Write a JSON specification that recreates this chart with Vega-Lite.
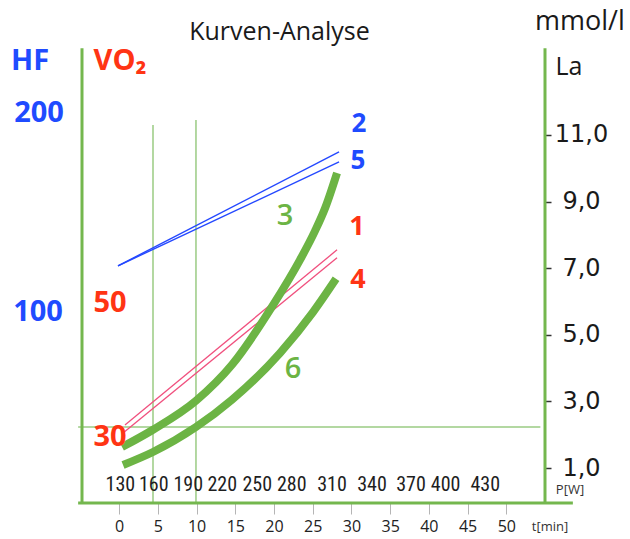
{
  "$schema": "https://vega.github.io/schema/vega-lite/v6.json",
  "width": 463,
  "height": 453,
  "autosize": {"type": "none"},
  "padding": {"left": 82, "top": 50, "right": 85, "bottom": 36},
  "background": "white",
  "config": {"view": {"stroke": null}, "axis": {"grid": false}},
  "datasets": {
    "frame": [
      {"part": "left", "t": -4.8, "t2": -4.8, "La": -0.05, "La2": 13.6},
      {"part": "right", "t": 55.0, "t2": 55.0, "La": -0.05, "La2": 13.6},
      {"part": "bottom", "t": -5.3, "t2": 58.6, "La": -0.05, "La2": -0.05}
    ],
    "guides": [
      {"part": "h", "t": -5.3, "t2": 54.4, "La": 2.23, "La2": 2.23},
      {"part": "v1", "t": 4.37, "t2": 4.37, "La": -0.05, "La2": 11.3},
      {"part": "v2", "t": 9.92, "t2": 9.92, "La": -0.05, "La2": 11.45}
    ],
    "curves": [
      {"series": "2", "t": -0.15, "La": 7.07},
      {"series": "2", "t": 28.4, "La": 10.49},
      {"series": "5", "t": -0.15, "La": 7.07},
      {"series": "5", "t": 28.4, "La": 10.19},
      {"series": "1", "t": 0.75, "La": 2.29},
      {"series": "1", "t": 28.14, "La": 7.55},
      {"series": "4", "t": 0.5, "La": 2.05},
      {"series": "4", "t": 28.14, "La": 7.31},
      {"series": "3", "t": 0.37, "La": 1.63},
      {"series": "3", "t": 4.37, "La": 2.15},
      {"series": "3", "t": 9.92, "La": 3.02},
      {"series": "3", "t": 14.57, "La": 4.1},
      {"series": "3", "t": 19.87, "La": 5.89},
      {"series": "3", "t": 23.36, "La": 7.25},
      {"series": "3", "t": 25.3, "La": 8.12},
      {"series": "3", "t": 26.59, "La": 8.8},
      {"series": "3", "t": 28.14, "La": 9.86},
      {"series": "6", "t": 0.5, "La": 1.09},
      {"series": "6", "t": 4.37, "La": 1.48},
      {"series": "6", "t": 9.92, "La": 2.23},
      {"series": "6", "t": 14.57, "La": 3.05},
      {"series": "6", "t": 20.77, "La": 4.45},
      {"series": "6", "t": 25.04, "La": 5.68},
      {"series": "6", "t": 28.01, "La": 6.68}
    ],
    "boldLabels": [
      {"text": "HF", "t": -11.5, "La": 12.95, "role": "HF", "big": "yes"},
      {"text": "VO₂", "t": 0.11, "La": 12.95, "role": "VO2", "big": "yes"},
      {"text": "200", "t": -10.35, "La": 11.39, "role": "HF", "big": "yes"},
      {"text": "100", "t": -10.48, "La": 5.41, "role": "HF", "big": "yes"},
      {"text": "50", "t": -1.18, "La": 5.68, "role": "VO2", "big": "yes"},
      {"text": "30", "t": -1.18, "La": 1.66, "role": "VO2", "big": "yes"},
      {"text": "2", "t": 30.98, "La": 11.1, "role": "HF", "big": "no"},
      {"text": "5", "t": 30.85, "La": 9.98, "role": "HF", "big": "no"},
      {"text": "1", "t": 30.72, "La": 8.0, "role": "VO2", "big": "no"},
      {"text": "4", "t": 30.85, "La": 6.4, "role": "VO2", "big": "no"}
    ],
    "greenLabels": [
      {"text": "3", "t": 21.42, "La": 8.3},
      {"text": "6", "t": 22.45, "La": 3.7}
    ],
    "headLabels": [
      {"text": "Kurven-Analyse", "t": 20.71, "La": 13.85, "size": "m"},
      {"text": "mmol/l", "t": 59.5, "La": 14.15, "size": "l"},
      {"text": "La", "t": 58.1, "La": 12.8, "size": "m"}
    ],
    "power": [
      {"text": "130", "t": 0.15, "La": 0.49},
      {"text": "160", "t": 4.46, "La": 0.49},
      {"text": "190", "t": 8.92, "La": 0.49},
      {"text": "220", "t": 13.32, "La": 0.49},
      {"text": "250", "t": 17.83, "La": 0.49},
      {"text": "280", "t": 22.29, "La": 0.49},
      {"text": "310", "t": 27.49, "La": 0.49},
      {"text": "340", "t": 32.66, "La": 0.49},
      {"text": "370", "t": 37.7, "La": 0.49},
      {"text": "400", "t": 42.16, "La": 0.49},
      {"text": "430", "t": 47.28, "La": 0.49}
    ],
    "units": [
      {"text": "P[W]", "t": 58.23, "La": 0.33},
      {"text": "t[min]", "t": 55.65, "La": -0.77}
    ]
  },
  "encoding": {
    "x": {
      "field": "t",
      "type": "quantitative",
      "scale": {"domain": [-4.8, 55.0], "nice": false, "zero": false},
      "axis": {
        "orient": "bottom",
        "values": [0, 5, 10, 15, 20, 25, 30, 35, 40, 45, 50],
        "domain": false,
        "tickColor": "#b5b5b5",
        "tickSize": 11,
        "tickWidth": 1,
        "labelPadding": 4,
        "labelFont": "Open Sans",
        "labelFontSize": 16,
        "labelColor": "#222222",
        "labelFlush": false,
        "title": null
      }
    },
    "y": {
      "field": "La",
      "type": "quantitative",
      "scale": {"domain": [-0.05, 13.55], "nice": false, "zero": false},
      "axis": {
        "orient": "right",
        "values": [1, 3, 5, 7, 9, 11],
        "labelExpr": "replace(format(datum.value, '.1f'), '.', ',')",
        "domain": false,
        "tickColor": "#333333",
        "tickSize": 6,
        "tickWidth": 1.5,
        "labelPadding": 30,
        "labelAlign": "center",
        "labelFont": "DejaVu Sans",
        "labelFontSize": 24,
        "labelColor": "#1a1a1a",
        "labelFlush": false,
        "title": null
      }
    }
  },
  "layer": [
    {
      "data": {"name": "guides"},
      "mark": {"type": "rule", "color": "#9acb83", "strokeWidth": 1.5},
      "encoding": {"x2": {"field": "t2"}, "y2": {"field": "La2"}}
    },
    {
      "data": {"name": "frame"},
      "mark": {"type": "rule", "color": "#74b74e", "strokeWidth": 3},
      "encoding": {"x2": {"field": "t2"}, "y2": {"field": "La2"}}
    },
    {
      "data": {"name": "curves"},
      "transform": [{"filter": "datum.series === '2' || datum.series === '5'"}],
      "mark": {"type": "line", "color": "#2448ff", "strokeWidth": 1.4},
      "encoding": {"detail": {"field": "series", "type": "nominal"}}
    },
    {
      "data": {"name": "curves"},
      "transform": [{"filter": "datum.series === '1' || datum.series === '4'"}],
      "mark": {"type": "line", "color": "#f0507e", "strokeWidth": 1.3},
      "encoding": {"detail": {"field": "series", "type": "nominal"}}
    },
    {
      "data": {"name": "curves"},
      "transform": [{"filter": "datum.series === '3' || datum.series === '6'"}],
      "mark": {"type": "line", "color": "#6cb444", "strokeWidth": 8, "interpolate": "monotone", "strokeCap": "butt"},
      "encoding": {"detail": {"field": "series", "type": "nominal"}}
    },
    {
      "data": {"name": "boldLabels"},
      "transform": [{"filter": "datum.role === 'HF' && datum.big === 'yes'"}],
      "mark": {"type": "text", "font": "Open Sans, Noto Sans, DejaVu Sans", "fontWeight": "bold", "fontSize": 29, "align": "center", "baseline": "alphabetic", "color": "#1f4bff"},
      "encoding": {"text": {"field": "text"}}
    },
    {
      "data": {"name": "boldLabels"},
      "transform": [{"filter": "datum.role === 'VO2' && datum.big === 'yes'"}],
      "mark": {"type": "text", "font": "Open Sans, Noto Sans, DejaVu Sans", "fontWeight": "bold", "fontSize": 29, "align": "center", "baseline": "alphabetic", "color": "#ff3414"},
      "encoding": {"text": {"field": "text"}}
    },
    {
      "data": {"name": "boldLabels"},
      "transform": [{"filter": "datum.role === 'HF' && datum.big === 'no'"}],
      "mark": {"type": "text", "font": "Open Sans", "fontWeight": "bold", "fontSize": 26, "align": "center", "baseline": "alphabetic", "color": "#1f4bff"},
      "encoding": {"text": {"field": "text"}}
    },
    {
      "data": {"name": "boldLabels"},
      "transform": [{"filter": "datum.role === 'VO2' && datum.big === 'no'"}],
      "mark": {"type": "text", "font": "Open Sans", "fontWeight": "bold", "fontSize": 27, "align": "center", "baseline": "alphabetic", "color": "#ff3414"},
      "encoding": {"text": {"field": "text"}}
    },
    {
      "data": {"name": "greenLabels"},
      "mark": {"type": "text", "font": "Open Sans", "fontWeight": 600, "fontSize": 29, "align": "center", "baseline": "alphabetic", "color": "#6cb444"},
      "encoding": {"text": {"field": "text"}}
    },
    {
      "data": {"name": "headLabels"},
      "transform": [{"filter": "datum.size === 'm'"}],
      "mark": {"type": "text", "font": "Open Sans", "fontSize": 25, "align": "center", "baseline": "alphabetic", "color": "#1a1a1a"},
      "encoding": {"text": {"field": "text"}}
    },
    {
      "data": {"name": "headLabels"},
      "transform": [{"filter": "datum.size === 'l'"}],
      "mark": {"type": "text", "font": "Open Sans", "fontSize": 27, "align": "center", "baseline": "alphabetic", "color": "#1a1a1a"},
      "encoding": {"text": {"field": "text"}}
    },
    {
      "data": {"name": "power"},
      "mark": {"type": "text", "font": "Liberation Sans Narrow, Roboto Condensed, Roboto, sans-serif", "fontSize": 20, "align": "center", "baseline": "middle", "color": "#1e1e1e"},
      "encoding": {"text": {"field": "text"}}
    },
    {
      "data": {"name": "units"},
      "mark": {"type": "text", "font": "Open Sans", "fontSize": 13, "align": "center", "baseline": "middle", "color": "#333333"},
      "encoding": {"text": {"field": "text"}}
    }
  ]
}
